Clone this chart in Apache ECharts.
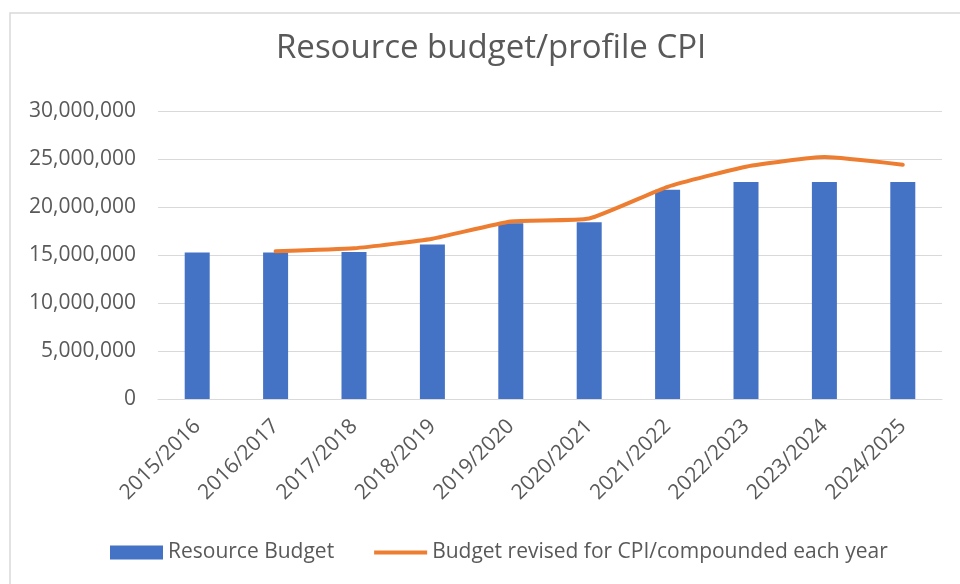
<!DOCTYPE html>
<html>
<head>
<meta charset="utf-8">
<script src="https://cdn.jsdelivr.net/npm/echarts@6/dist/echarts.min.js"></script>
<style>
  html, body { margin: 0; padding: 0; background: #fff; }
  #chart { width: 960px; height: 584px; }
</style>
</head>
<body>
<div id="chart"></div>
<script>
// values
const years = ['2015/2016', '2016/2017', '2017/2018', '2018/2019', '2019/2020',
  '2020/2021', '2021/2022', '2022/2023', '2023/2024', '2024/2025'];
const resourceBudget = [15250000, 15250000, 15300000, 16100000, 18300000,
  18400000, 21800000, 22600000, 22600000, 22600000];
const cpiBudget = [null, 15400000, 15700000, 16700000, 18500000,
  18800000, 22100000, 24200000, 25200000, 24400000];
const yTicks = { min: 0, max: 30000000, interval: 5000000 };

const textColor = '#595959';
const font = '"Open Sans", sans-serif';

const chart = echarts.init(document.getElementById('chart'), null, { renderer: 'canvas' });

chart.setOption({
  animation: false,
  backgroundColor: '#fff',
  textStyle: { fontFamily: font },
  graphic: [{
    type: 'rect',
    shape: { x: 10, y: 13, width: 980, height: 620 },
    style: { fill: 'none', stroke: '#d9d9d9', lineWidth: 1.5 },
    silent: true
  }],
  title: {
    text: 'Resource budget/profile CPI',
    left: 271,
    top: 27,
    textStyle: { fontFamily: font, fontSize: 33, fontWeight: 'normal', color: textColor }
  },
  grid: { left: 158, right: 18, top: 111, bottom: 185, containLabel: false },
  xAxis: {
    type: 'category',
    data: years,
    axisLine: { lineStyle: { color: '#d9d9d9', width: 1 } },
    axisTick: { show: false },
    axisLabel: { rotate: 45, margin: 24, fontSize: 21, color: textColor, fontFamily: font, interval: 0 }
  },
  yAxis: {
    type: 'value',
    min: yTicks.min,
    max: yTicks.max,
    interval: yTicks.interval,
    axisLine: { show: false },
    axisTick: { show: false },
    splitLine: { lineStyle: { color: '#d9d9d9', width: 1 } },
    axisLabel: {
      margin: 22,
      fontSize: 21,
      color: textColor,
      fontFamily: font,
      formatter: (v) => v.toLocaleString('en-US')
    }
  },
  legend: {
    left: 105,
    top: 537,
    itemWidth: 53,
    itemHeight: 14,
    itemGap: 40,
    textStyle: { fontSize: 21, color: textColor, fontFamily: font },
    data: [
      { name: 'Resource Budget', icon: 'rect' },
      { name: 'Budget revised for CPI/compounded each year', icon: 'path://M0,0H53V4H0Z' }
    ]
  },
  series: [
    {
      name: 'Resource Budget',
      type: 'bar',
      data: resourceBudget,
      barWidth: 25,
      itemStyle: { color: '#4472C4' }
    },
    {
      name: 'Budget revised for CPI/compounded each year',
      type: 'line',
      data: cpiBudget,
      smooth: 0.15,
      symbol: 'none',
      connectNulls: false,
      lineStyle: { color: '#ED7D31', width: 4, cap: 'round' },
      itemStyle: { color: '#ED7D31' }
    }
  ]
});
</script>
</body>
</html>
